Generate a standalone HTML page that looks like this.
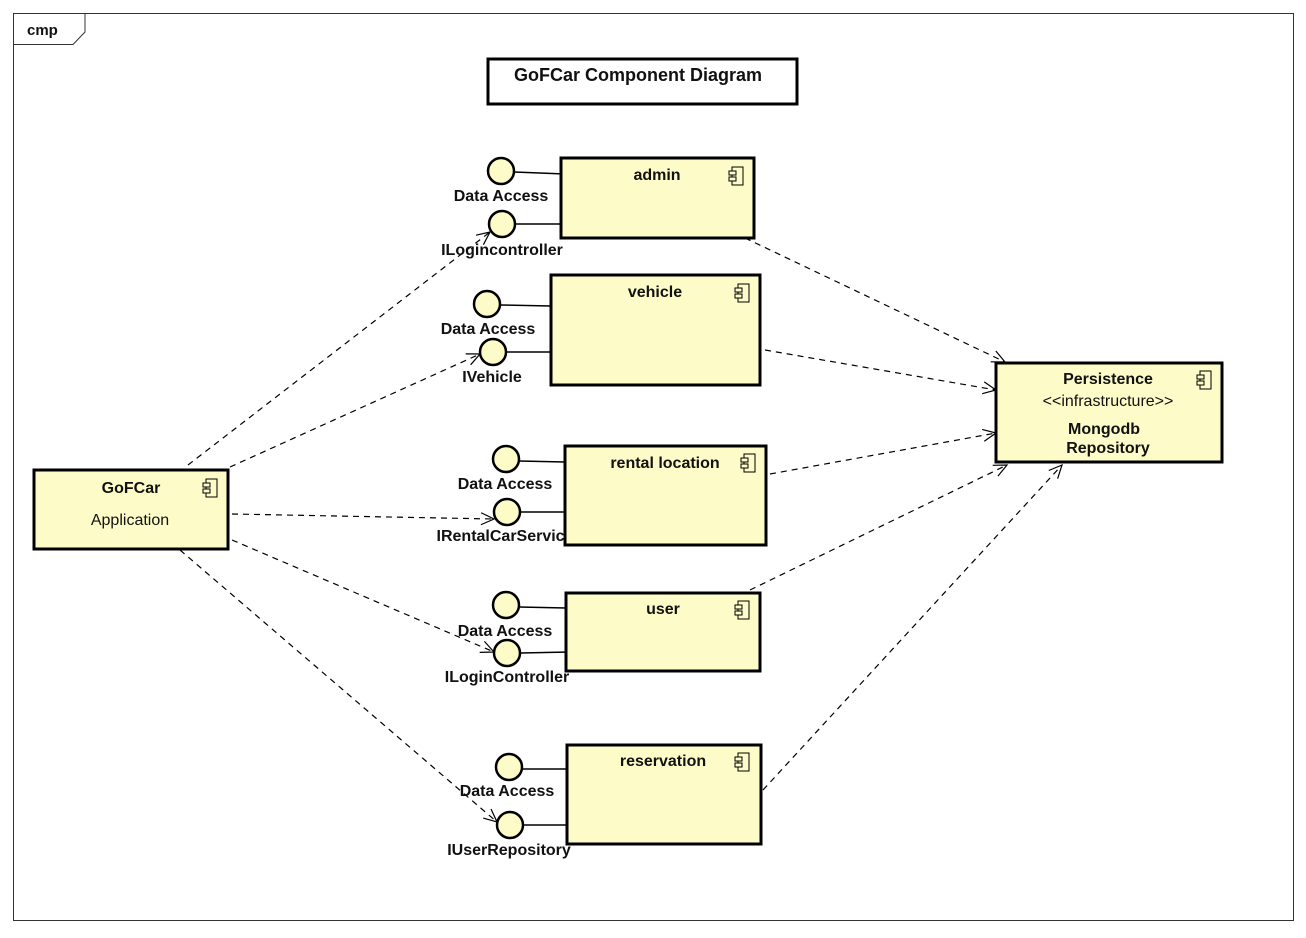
<!DOCTYPE html>
<html><head><style>
body{margin:0;background:#fff;}
svg text{font-family:"Liberation Sans","DejaVu Sans",sans-serif;font-weight:bold;font-size:16px;fill:#111;}
</style></head><body>
<svg width="1306" height="933" viewBox="0 0 1306 933" xmlns="http://www.w3.org/2000/svg">
<defs>
<marker id="a" markerWidth="16" markerHeight="16" refX="14" refY="8" orient="auto" markerUnits="userSpaceOnUse">
<path d="M1,2 L14,8 L1,14" fill="none" stroke="#000" stroke-width="1.2"/>
</marker>
<g id="ic"><rect x="3" y="0" width="11" height="18" fill="none" stroke="#000" stroke-width="1"/><rect x="0" y="4" width="7" height="4" fill="#fdfcc8" stroke="#000" stroke-width="1"/><rect x="0" y="10" width="7" height="4" fill="#fdfcc8" stroke="#000" stroke-width="1"/></g>
</defs>
<rect x="13.5" y="13.5" width="1280" height="907" fill="none" stroke="#333" stroke-width="1"/>
<path d="M13.5,44.5 H73 L85,32 V13.5" fill="none" stroke="#333" stroke-width="1"/>
<text x="27" y="35" style="font-size:15px">cmp</text>
<rect x="488" y="59" width="309" height="45" fill="#fff" stroke="#000" stroke-width="3"/>
<text x="638" y="81" text-anchor="middle" style="font-size:18px">GoFCar Component Diagram</text>

<g stroke="#000" stroke-width="1.2" fill="none" stroke-dasharray="6,5" marker-end="url(#a)">
<line x1="188" y1="465" x2="490" y2="232"/>
<line x1="230" y1="467" x2="480" y2="354"/>
<line x1="232" y1="514" x2="494" y2="519"/>
<line x1="232" y1="540" x2="494" y2="652"/>
<line x1="180" y1="550" x2="497" y2="822"/>
<line x1="745" y1="238" x2="1005" y2="362"/>
<line x1="765" y1="350" x2="996" y2="390"/>
<line x1="770" y1="474" x2="996" y2="433"/>
<line x1="750" y1="590" x2="1007" y2="465"/>
<line x1="763" y1="790" x2="1062" y2="465"/>
</g>

<g stroke="#000" stroke-width="1.5">
<line x1="514" y1="172" x2="565" y2="174"/><line x1="515" y1="224" x2="561" y2="224"/>
<line x1="500" y1="305" x2="551" y2="306"/><line x1="506" y1="352" x2="551" y2="352"/>
<line x1="519" y1="461" x2="565" y2="462"/><line x1="520" y1="512" x2="565" y2="512"/>
<line x1="519" y1="607" x2="566" y2="608"/><line x1="520" y1="653" x2="570" y2="652"/>
<line x1="522" y1="769" x2="567" y2="769"/><line x1="523" y1="825" x2="567" y2="825"/>
</g>
<g fill="#fdfcc8" stroke="#000" stroke-width="2.5">
<circle cx="501" cy="171" r="13"/><circle cx="502" cy="224" r="13"/>
<circle cx="487" cy="304" r="13"/><circle cx="493" cy="352" r="13"/>
<circle cx="506" cy="459" r="13"/><circle cx="507" cy="512" r="13"/>
<circle cx="506" cy="605" r="13"/><circle cx="507" cy="653" r="13"/>
<circle cx="509" cy="767" r="13"/><circle cx="510" cy="825" r="13"/>
</g>
<g text-anchor="middle">
<text x="501" y="201">Data Access</text><text x="502" y="255">ILogincontroller</text>
<text x="488" y="334">Data Access</text><text x="492" y="382">IVehicle</text>
<text x="505" y="489">Data Access</text><text x="505" y="541">IRentalCarService</text>
<text x="505" y="636">Data Access</text><text x="507" y="682">ILoginController</text>
<text x="507" y="796">Data Access</text><text x="509" y="855">IUserRepository</text>
</g>

<g fill="#fdfcc8" stroke="#000" stroke-width="3">
<rect x="561" y="158" width="193" height="80"/>
<rect x="551" y="275" width="209" height="110"/>
<rect x="565" y="446" width="201" height="99"/>
<rect x="566" y="593" width="194" height="78"/>
<rect x="567" y="745" width="194" height="99"/>
<rect x="996" y="363" width="226" height="99"/>
<rect x="34" y="470" width="194" height="79"/>
</g>
<use href="#ic" x="729" y="167"/>
<use href="#ic" x="735" y="284"/>
<use href="#ic" x="741" y="454"/>
<use href="#ic" x="735" y="601"/>
<use href="#ic" x="735" y="753"/>
<use href="#ic" x="1197" y="371"/>
<use href="#ic" x="203" y="479"/>
<g text-anchor="middle">
<text x="657" y="180">admin</text>
<text x="655" y="297">vehicle</text>
<text x="665" y="468">rental location</text>
<text x="663" y="614">user</text>
<text x="663" y="766">reservation</text>
<text x="1108" y="384">Persistence</text>
<text x="1108" y="406" style="font-weight:normal">&lt;&lt;infrastructure&gt;&gt;</text>
<text x="1104" y="434">Mongodb</text>
<text x="1108" y="453">Repository</text>
<text x="131" y="493">GoFCar</text>
<text x="130" y="525" style="font-weight:normal">Application</text>
</g>
</svg>
</body></html>
